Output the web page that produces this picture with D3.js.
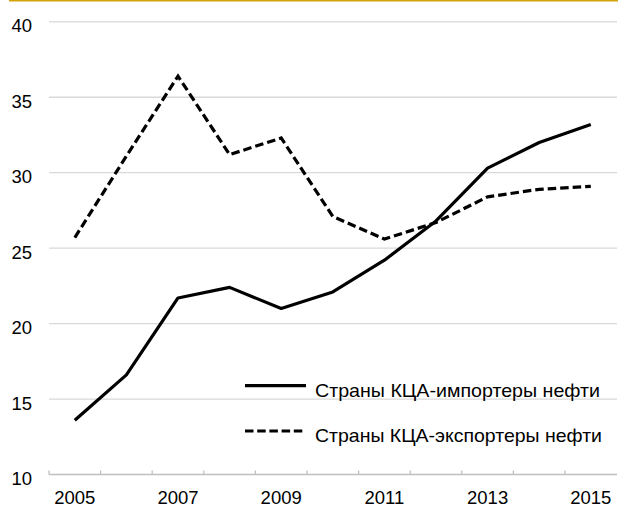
<!DOCTYPE html>
<html>
<head>
<meta charset="utf-8">
<script src="https://cdn.jsdelivr.net/npm/d3@7"></script>
<style>
body { margin: 0; background: #fff; }
text { font-family: "Liberation Sans", Arial, sans-serif; fill: #000; }
</style>
</head>
<body>
<script>
var width = 618;
var height = 508;

var years = [2005, 2006, 2007, 2008, 2009, 2010, 2011, 2012, 2013, 2014, 2015];
var yearLabels = [2005, 2007, 2009, 2011, 2013, 2015];
var yTicks = [10, 15, 20, 25, 30, 35, 40];
var importers = [13.6, 16.6, 21.7, 22.4, 21.0, 22.1, 24.2, 26.8, 30.3, 32.0, 33.2];
var exporters = [25.7, 31.1, 36.4, 31.2, 32.3, 27.1, 25.6, 26.7, 28.4, 28.9, 29.1];
var seriesNames = ["Страны КЦА-импортеры нефти", "Страны КЦА-экспортеры нефти"];

var svg = d3.select("body").append("svg").attr("width", width).attr("height", height);

// top rule
svg.append("line")
    .attr("x1", 9).attr("x2", width).attr("y1", 0.5).attr("y2", 0.5)
    .attr("stroke", "#d4a20a").attr("stroke-width", 2);

var x = d3.scaleBand().domain(years).range([49, 616.6]);
var y = d3.scaleLinear().domain([10, 40]).range([474.5, 21.8]);

// gridlines
svg.append("g").selectAll("line")
    .data(yTicks.slice(1))
    .enter()
    .append("line")
    .attr("x1", 49).attr("x2", 617)
    .attr("y1", function (d) { return y(d); })
    .attr("y2", function (d) { return y(d); })
    .attr("stroke", "#d9d9d9").attr("stroke-width", 1.3);

// y labels
svg.append("g").selectAll("text")
    .data(yTicks)
    .enter()
    .append("text")
    .attr("x", 32)
    .attr("y", function (d) { return y(d) + 10.5; })
    .attr("text-anchor", "end")
    .style("font-size", "18.5px")
    .text(function (d) { return d; });

// x axis line and ticks at category boundaries
svg.append("line")
    .attr("x1", 49).attr("x2", 617).attr("y1", y(10)).attr("y2", y(10))
    .attr("stroke", "#bfbfbf").attr("stroke-width", 1.3);
svg.append("g").selectAll("line")
    .data(years)
    .enter()
    .append("line")
    .attr("x1", function (d) { return x(d); })
    .attr("x2", function (d) { return x(d); })
    .attr("y1", y(10)).attr("y2", y(10) - 4)
    .attr("stroke", "#bfbfbf").attr("stroke-width", 1.3);

svg.append("g").selectAll("text")
    .data(yearLabels)
    .enter()
    .append("text")
    .attr("x", function (d) { return x(d) + x.bandwidth() / 2; })
    .attr("y", 504)
    .attr("text-anchor", "middle")
    .style("font-size", "18.5px")
    .text(function (d) { return d; });

var line = d3.line()
    .x(function (d, i) { return x(years[i]) + x.bandwidth() / 2; })
    .y(function (d) { return y(d); });

svg.append("path")
    .attr("d", line(exporters))
    .attr("fill", "none").attr("stroke", "#000").attr("stroke-width", 3.2)
    .attr("stroke-dasharray", "8.5,4");

svg.append("path")
    .attr("d", line(importers))
    .attr("fill", "none").attr("stroke", "#000").attr("stroke-width", 3.2)
    .attr("stroke-linejoin", "round");

// legend
var legend = svg.append("g").selectAll("g")
    .data(seriesNames)
    .enter()
    .append("g")
    .attr("transform", function (d, i) { return "translate(245," + (385.7 + i * 45.3) + ")"; });

legend.append("line")
    .attr("x1", 0).attr("x2", 61).attr("y1", 0).attr("y2", 0)
    .attr("stroke", "#000").attr("stroke-width", 3.2)
    .attr("stroke-dasharray", function (d, i) { return i ? "8.5,3.7" : null; });

legend.append("text")
    .attr("x", 70).attr("y", 11)
    .style("font-size", "18.5px")
    .attr("textLength", function (d, i) { return i ? 287 : 285; })
    .attr("lengthAdjust", "spacingAndGlyphs")
    .text(function (d) { return d; });
</script>
</body>
</html>
